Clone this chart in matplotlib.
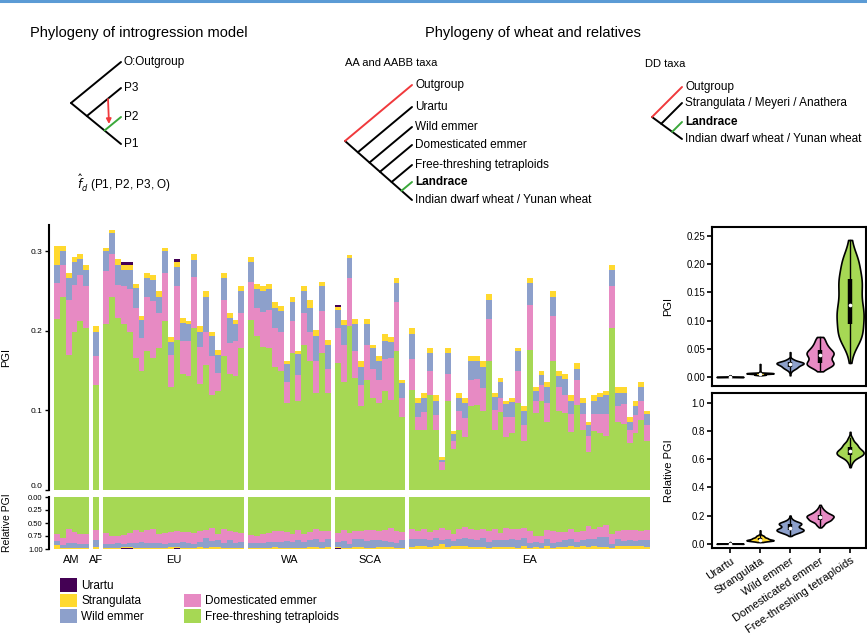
import matplotlib

matplotlib.use("Agg")
import matplotlib.pyplot as plt
import numpy as np
from matplotlib.patches import Patch

plt.rcParams["font.family"] = ["Liberation Sans", "DejaVu Sans"]

W, H = 867, 644

# ---- data -------------------------------------------------------------
groups = ["AM", "AF", "EU", "WA", "SCA", "EA"]
group_sizes = [6, 1, 24, 14, 12, 41]

free_threshing = [
    .215, .243, .170, .199, .212, .203,
    .132,
    .208, .243, .216, .208, .199, .166, .149, .175, .166, .178, .212, .129,
    .189, .146, .143, .203, .133, .157, .120, .124, .169, .146, .143, .179,
    .213, .193, .180, .178, .155, .149, .109, .172, .112, .182, .162, .122, .172, .122,
    .160, .136, .206, .141, .105, .138, .115, .109, .125, .113, .175, .092,
    .126, .076, .076, .119, .076, .025, .112, .052, .076, .066, .105, .107, .099, .162,
    .076, .098, .066, .071, .109, .062, .176, .097, .112, .086, .162, .099, .097, .073,
    .107, .076, .048, .074, .071, .068, .203, .085, .083, .059, .071, .088, .062,
]
domesticated = [
    .045, .040, .069, .059, .058, .053,
    .037,
    .067, .053, .042, .048, .053, .063, .042, .068, .071, .044, .061, .041,
    .067, .041, .044, .065, .047, .042, .048, .023, .070, .039, .044, .043,
    .049, .036, .044, .048, .048, .050, .027, .040, .033, .040, .037, .040, .053, .030,
    .043, .046, .060, .034, .027, .044, .037, .029, .040, .053, .061, .023,
    .039, .016, .022, .030, .018, .010, .034, .010, .023, .025, .033, .033, .029, .053,
    .025, .018, .026, .021, .040, .020, .057, .015, .020, .023, .057, .030, .023, .022,
    .031, .019, .020, .021, .024, .027, .053, .020, .025, .017, .023, .024, .020,
]
wild = [
    .023, .017, .027, .029, .020, .021,
    .030,
    .025, .027, .025, .021, .025, .025, .023, .023, .027, .021, .027, .016,
    .024, .023, .021, .021, .019, .044, .025, .023, .027, .031, .021, .028,
    .024, .024, .026, .027, .026, .026, .022, .024, .026, .028, .030, .031, .031, .030,
    .023, .025, .025, .033, .023, .027, .026, .024, .022, .020, .024, .020,
    .031, .017, .018, .023, .018, .003, .026, .008, .017, .018, .024, .022, .027, .024,
    .016, .020, .016, .019, .026, .017, .027, .013, .013, .020, .024, .014, .020, .017,
    .014, .014, .014, .017, .022, .025, .021, .017, .014, .010, .011, .017, .013,
]
strangulata = [
    .023, .006, .007, .006, .006, .006,
    .007,
    .004, .004, .007, .006, .006, .005, .005, .007, .006, .007, .004, .006,
    .007, .006, .004, .007, .007, .007, .006, .006, .007, .006, .005, .006,
    .007, .006, .006, .006, .007, .006, .004, .007, .004, .006, .010, .008, .006, .007,
    .004, .006, .004, .007, .007, .006, .004, .006, .009, .006, .007, .003,
    .007, .006, .006, .007, .007, .004, .007, .004, .006, .006, .007, .007, .007, .007,
    .005, .005, .004, .004, .004, .006, .006, .004, .004, .007, .007, .006, .006, .007,
    .007, .006, .003, .007, .005, .005, .006, .007, .007, .006, .007, .007, .004,
]
urartu = [
    0, 0, 0, 0, 0, 0,
    0,
    0, 0, 0, .003, .003, 0, 0, 0, 0, 0, 0, 0,
    .003, 0, 0, 0, 0, 0, 0, 0, 0, 0, 0, 0,
    0, 0, 0, 0, 0, 0, 0, 0, 0, 0, 0, 0, 0, 0,
    .003, 0, 0, 0, 0, 0, 0, 0, 0, 0, 0, 0,
    0, 0, 0, 0, 0, 0, 0, 0, 0, 0, 0, 0, 0, 0,
    0, 0, 0, 0, 0, 0, 0, 0, 0, 0, 0, 0, 0, 0,
    0, 0, 0, 0, 0, 0, 0, 0, 0, 0, 0, 0, 0,
]

# stacking order bottom -> top
components = ["Free-threshing tetraploids", "Domesticated emmer", "Wild emmer",
              "Strangulata", "Urartu"]
comp_values = [free_threshing, domesticated, wild, strangulata, urartu]
comp_colors = ["#a6d854", "#e78ac3", "#8da0cb", "#ffd92f", "#440154"]

# violin order (left -> right)
violin_names = ["Urartu", "Strangulata", "Wild emmer", "Domesticated emmer",
                "Free-threshing tetraploids"]

# tree tips
model_tips = ["O:Outgroup", "P3", "P2", "P1"]
aa_tips = ["Outgroup", "Urartu", "Wild emmer", "Domesticated emmer",
           "Free-threshing tetraploids", "Landrace", "Indian dwarf wheat / Yunan wheat"]
dd_tips = ["Outgroup", "Strangulata / Meyeri / Anathera", "Landrace",
           "Indian dwarf wheat / Yunan wheat"]

RED = "#f0393c"
GREEN = "#3aa83a"

# ---- figure -----------------------------------------------------------
fig = plt.figure(figsize=(W / 100, H / 100), dpi=100)


def px_axes(left, top, right, bottom):
    return fig.add_axes([left / W, 1 - bottom / H, (right - left) / W, (bottom - top) / H])


# overlay in pixel coordinates for the schematic trees and titles
ov = fig.add_axes([0, 0, 1, 1])
ov.set_xlim(0, W)
ov.set_ylim(H, 0)
ov.axis("off")
ov.plot([0, W], [1.2, 1.2], color="#5b9bd5", lw=2.2)


def ladder(root, tip_x, tip_ys, labels, colors, bold=(), fs=8.5):
    rx, ry = root
    y0, yn = tip_ys[0], tip_ys[-1]
    ov.plot([rx, tip_x], [ry, yn], color="black", lw=1.4, solid_capstyle="round")
    for ty, lab, c in zip(tip_ys, labels, colors):
        t = (ty - y0) / (yn - y0)
        nx = rx + t * (tip_x - rx)
        ny = ry + t * (yn - ry)
        if t < 1:
            ov.plot([nx, tip_x], [ny, ty], color=c, lw=1.4, solid_capstyle="round")
        ov.text(tip_x + 3, ty, lab, fontsize=fs, va="center", ha="left",
                fontweight="bold" if lab in bold else "normal")


ov.text(30, 33, "Phylogeny of introgression model", fontsize=10.5, va="center")
ov.text(425, 33, "Phylogeny of wheat and relatives", fontsize=10.5, va="center")

ladder((71, 103), 121, [62, 88, 117, 144], model_tips,
       ["black", "black", GREEN, "black"], fs=8.5)
ov.annotate("", xy=(109, 124), xytext=(108, 99),
            arrowprops=dict(arrowstyle="-|>", color=RED, lw=1.3,
                            mutation_scale=7, shrinkA=0, shrinkB=0))
ov.text(77, 183, r"$\hat{f}_d$ (P1, P2, P3, O)", fontsize=8.5, va="center")

ov.text(345, 63, "AA and AABB taxa", fontsize=8, va="center")
ladder((345, 141), 412, [85, 107, 127, 145, 165, 182, 200], aa_tips,
       [RED, "black", "black", "black", "black", GREEN, "black"], bold=("Landrace",))

ov.text(645, 64, "DD taxa", fontsize=8, va="center")
ladder((652, 117), 682, [87, 103, 122, 139], dd_tips,
       [RED, "black", GREEN, "black"], bold=("Landrace",))

# ---- stacked bars -------------------------------------------------------
gap = 0.7
xs, centers = [], []
start = 0.0
for size in group_sizes:
    pos = start + np.arange(size)
    xs.extend(pos)
    centers.append(pos.mean())
    start += size + gap
xs = np.array(xs)
vals = [np.array(v, dtype=float) for v in comp_values]
total = np.sum(vals, axis=0)

ax = px_axes(49, 225, 652, 490)
ax_rel = px_axes(49, 497, 652, 549)

bottom = np.zeros_like(total)
bottom_rel = np.zeros_like(total)
for v, c in zip(vals, comp_colors):
    ax.bar(xs, v, width=1.0, bottom=bottom, color=c, linewidth=0)
    ax_rel.bar(xs, v / total, width=1.0, bottom=bottom_rel, color=c, linewidth=0)
    bottom += v
    bottom_rel += v / total

xlim = (xs[0] - 1.35, xs[-1] + 0.8)
for a in (ax, ax_rel):
    a.set_xlim(*xlim)
    for s in ("top", "right", "bottom"):
        a.spines[s].set_visible(False)
    a.spines["left"].set_linewidth(1.5)
    a.tick_params(axis="y", length=3, width=1, labelsize=6, pad=1.5)

ax.set_ylim(0, 0.333)
ax.set_yticks([0, 0.1, 0.2, 0.3], ["0.0", "0.1", "0.2", "0.3"])
ax.get_yticklabels()[0].set_verticalalignment("bottom")
ax.set_xticks([])
ax.set_ylabel("PGI", fontsize=8)
ax.yaxis.set_label_coords(-0.062, 0.5)

ax_rel.set_ylim(1, 0)
ax_rel.set_yticks([0, 0.25, 0.5, 0.75, 1.0], ["0.00", "0.25", "0.50", "0.75", "1.00"])
ax_rel.tick_params(axis="y", labelsize=5.5)
ax_rel.set_xticks(centers, groups)
ax_rel.tick_params(axis="x", length=0, labelsize=8, pad=4)
ax_rel.set_ylabel("Relative PGI", fontsize=7.5)
ax_rel.yaxis.set_label_coords(-0.062, 0.5)

handles = [Patch(facecolor=comp_colors[4]), Patch(facecolor=comp_colors[3]),
           Patch(facecolor=comp_colors[2]), Patch(facecolor="none", edgecolor="none"),
           Patch(facecolor=comp_colors[1]), Patch(facecolor=comp_colors[0])]
labels = ["Urartu", "Strangulata", "Wild emmer", "", "Domesticated emmer",
          "Free-threshing tetraploids"]
fig.legend(handles, labels, loc="upper left", bbox_to_anchor=(60 / W, 1 - 578 / H),
           ncol=2, frameon=False, fontsize=8.5, handlelength=1.4, handleheight=1.4,
           handletextpad=0.4, labelspacing=0.15, columnspacing=3.4,
           borderpad=0, borderaxespad=0)


# ---- violins ------------------------------------------------------------
def violin(a, pos, data, color, width=0.9):
    data = np.asarray(data, dtype=float)
    n = len(data)
    q1, med, q3 = np.percentile(data, [25, 50, 75])
    sd = data.std(ddof=1)
    lo = min(sd, (q3 - q1) / 1.34) if q3 > q1 else sd
    bw = max(0.9 * lo * n ** -0.2, 1e-6)
    grid = np.linspace(data.min(), data.max(), 256)
    dens = np.exp(-0.5 * ((grid[:, None] - data[None, :]) / bw) ** 2).sum(axis=1)
    dens = dens / dens.max() * width / 2
    a.fill_betweenx(grid, pos - dens, pos + dens, facecolor=color,
                    edgecolor="black", linewidth=1.2, zorder=2)
    iqr = q3 - q1
    wlo = data[data >= q1 - 1.5 * iqr].min()
    whi = data[data <= q3 + 1.5 * iqr].max()
    a.plot([pos, pos], [wlo, whi], color="black", lw=1.0, zorder=3)
    a.plot([pos, pos], [q1, q3], color="black", lw=3.2, zorder=3,
           solid_capstyle="butt")
    a.scatter([pos], [med], s=7, color="white", zorder=4, linewidths=0)


name_to_idx = {n: i for i, n in enumerate(components)}
ax_v = px_axes(712, 227, 866, 386)
ax_vr = px_axes(712, 393, 866, 548)
for i, name in enumerate(violin_names):
    k = name_to_idx[name]
    violin(ax_v, i, vals[k], comp_colors[k])
    violin(ax_vr, i, vals[k] / total, comp_colors[k])

for a in (ax_v, ax_vr):
    a.set_xlim(-0.6, 4.53)
    for s in a.spines.values():
        s.set_linewidth(1.5)
    a.tick_params(axis="y", length=3.5, width=1.2, labelsize=7, pad=1.5)

ax_v.set_ylim(-0.016, 0.266)
ax_v.set_yticks([0, 0.05, 0.1, 0.15, 0.2, 0.25],
                ["0.00", "0.05", "0.10", "0.15", "0.20", "0.25"])
ax_v.set_xticks([])
ax_v.set_ylabel("PGI", fontsize=8)
ax_v.yaxis.set_label_coords(-0.25, 0.5)

ax_vr.set_ylim(-0.03, 1.07)
ax_vr.set_yticks([0, 0.2, 0.4, 0.6, 0.8, 1.0], ["0.0", "0.2", "0.4", "0.6", "0.8", "1.0"])
ax_vr.set_xticks(range(len(violin_names)), violin_names, rotation=34, ha="right",
                 rotation_mode="anchor")
ax_vr.tick_params(axis="x", length=3.5, width=1.2, labelsize=8, pad=2)
ax_vr.set_ylabel("Relative PGI", fontsize=8)
ax_vr.yaxis.set_label_coords(-0.25, 0.5)

fig.savefig("out.png", dpi=100)
